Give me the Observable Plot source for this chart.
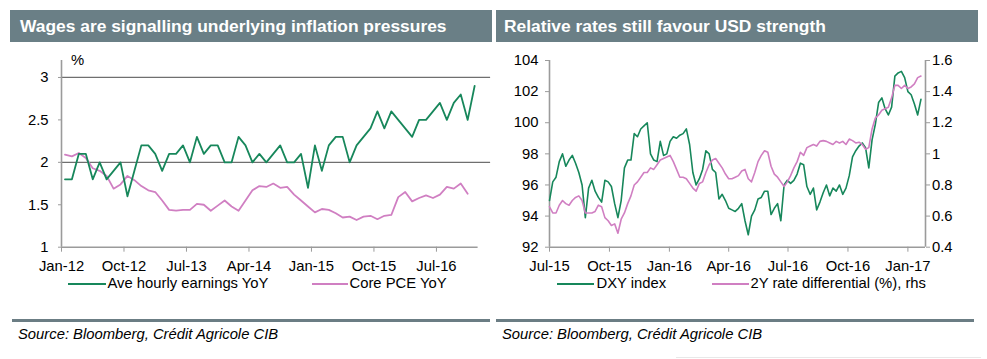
<!DOCTYPE html>
<html>
<head>
<meta charset="utf-8">
<script src="https://cdn.jsdelivr.net/npm/d3@7"></script>
<script src="https://cdn.jsdelivr.net/npm/@observablehq/plot@0.6"></script>
<style>
html,body{margin:0;padding:0;background:#fff;}
#page{position:relative;width:987px;height:359px;overflow:hidden;font-family:"Liberation Sans",Arial,sans-serif;color:#000;}
.bar{position:absolute;top:10px;height:32px;background:#6a7f86;}
.bar span{position:absolute;top:7.8px;font-weight:bold;font-size:17.4px;line-height:1;color:#fff;white-space:nowrap;}
.txt{position:absolute;font-size:14.8px;line-height:1;white-space:nowrap;}
.sw{position:absolute;height:2px;}
.sep{position:absolute;top:319px;height:3px;background:#6b7d84;}
.src{position:absolute;top:326.7px;font-size:14.8px;line-height:1;font-style:italic;white-space:nowrap;}
.chart{position:absolute;top:0;}
</style>
</head>
<body>
<div id="page">
  <div class="bar" style="left:10px;width:482px;"><span style="left:10px;">Wages are signalling underlying inflation pressures</span></div>
  <div class="bar" style="left:496px;width:482px;"><span style="left:8px;">Relative rates still favour USD strength</span></div>
  <div id="left" class="chart" style="left:0;"></div>
  <div id="rightA" class="chart" style="left:494px;"></div>
  <div id="rightB" class="chart" style="left:494px;"></div>
  <div class="txt" style="left:71px;top:52.5px;">%</div>
  <div id="legL"></div>
  <div id="legR"></div>
  <div class="sep" style="left:12px;width:478px;"></div>
  <div class="sep" style="left:496px;width:478px;"></div>
  <div class="src" style="left:18px;">Source: Bloomberg, Crédit Agricole CIB</div>
  <div class="src" style="left:502px;">Source: Bloomberg, Crédit Agricole CIB</div>
  <div style="position:absolute;left:676px;top:357px;width:305px;height:1px;background:#e8e8e8;"></div>
</div>
<script>
// ---------- Left chart data (monthly, Jan-12 .. Dec-16) ----------
const earningsYoY = [1.8,1.8,2.1,2.1,1.8,2.0,1.8,1.9,2.0,1.6,
  1.9,2.2,2.2,2.1,1.9,2.1,2.1,2.2,2.0,2.3,
  2.1,2.2,2.2,2.0,2.0,2.3,2.2,2.0,2.1,2.0,
  2.1,2.2,2.0,2.0,2.1,1.7,2.2,1.9,2.2,2.3,
  2.3,2.0,2.2,2.3,2.4,2.6,2.4,2.6,2.5,2.4,
  2.3,2.5,2.5,2.6,2.7,2.5,2.7,2.8,2.5,2.9];
const corePceYoY = [2.09,2.07,2.11,2.05,1.93,1.90,1.84,1.69,1.74,1.84,
  1.79,1.72,1.67,1.65,1.55,1.44,1.43,1.44,1.44,1.51,
  1.50,1.43,1.49,1.55,1.48,1.43,1.55,1.67,1.72,1.71,
  1.75,1.70,1.71,1.62,1.55,1.48,1.41,1.45,1.44,1.40,
  1.35,1.36,1.32,1.36,1.37,1.33,1.37,1.38,1.59,1.65,
  1.54,1.58,1.61,1.58,1.62,1.71,1.69,1.75,1.63];
const leftTicksY = [1, 1.5, 2, 2.5, 3];
const leftGrid = [2, 3];
const leftTickMonths = [0, 9, 18, 27, 36, 45, 54];
const leftTickLabels = ["Jan-12","Oct-12","Jul-13","Apr-14","Jan-15","Oct-15","Jul-16"];
const leftLegend = ["Ave hourly earnings YoY", "Core PCE YoY"];

// ---------- Right chart data ----------
const rightDates = ["2015-07-01","2015-07-06","2015-07-11","2015-07-16","2015-07-21","2015-07-26","2015-07-31","2015-08-05","2015-08-10","2015-08-15",
  "2015-08-20","2015-08-25","2015-08-30","2015-09-04","2015-09-09","2015-09-14","2015-09-19","2015-09-24","2015-09-29","2015-10-04",
  "2015-10-09","2015-10-14","2015-10-19","2015-10-24","2015-10-29","2015-11-03","2015-11-08","2015-11-13","2015-11-18","2015-11-23",
  "2015-11-28","2015-12-03","2015-12-08","2015-12-13","2015-12-18","2015-12-23","2015-12-28","2016-01-02","2016-01-07","2016-01-12",
  "2016-01-17","2016-01-22","2016-01-27","2016-02-01","2016-02-06","2016-02-11","2016-02-16","2016-02-21","2016-02-26","2016-03-02",
  "2016-03-07","2016-03-12","2016-03-17","2016-03-22","2016-03-27","2016-04-01","2016-04-06","2016-04-11","2016-04-16","2016-04-21",
  "2016-04-26","2016-05-01","2016-05-06","2016-05-11","2016-05-16","2016-05-21","2016-05-26","2016-05-31","2016-06-05","2016-06-10",
  "2016-06-15","2016-06-20","2016-06-25","2016-06-30","2016-07-05","2016-07-10","2016-07-15","2016-07-20","2016-07-25","2016-07-30",
  "2016-08-04","2016-08-09","2016-08-14","2016-08-19","2016-08-24","2016-08-29","2016-09-03","2016-09-08","2016-09-13","2016-09-18",
  "2016-09-23","2016-09-28","2016-10-03","2016-10-08","2016-10-13","2016-10-18","2016-10-23","2016-10-28","2016-11-02","2016-11-07",
  "2016-11-12","2016-11-17","2016-11-22","2016-11-27","2016-12-02","2016-12-07","2016-12-12","2016-12-17","2016-12-22","2016-12-27",
  "2017-01-01","2017-01-06","2017-01-11","2017-01-16","2017-01-21"];
const dxyIndex = [95.0,96.2,96.5,97.5,98.0,97.2,97.6,97.9,97.4,96.8,
  96.0,93.9,95.8,96.3,95.6,95.2,94.9,96.3,96.2,95.9,
  94.8,93.9,95.0,97.1,97.6,97.6,99.3,99.1,99.6,99.8,
  100.0,98.0,97.6,97.5,98.8,97.9,98.0,98.8,99.1,99.0,
  99.2,99.3,99.6,98.6,96.8,96.0,96.4,97.0,98.2,98.0,
  97.0,96.8,95.1,95.4,95.0,94.5,94.4,94.3,94.5,94.8,
  93.7,92.8,94.0,94.4,95.1,95.2,95.6,95.6,94.1,94.5,
  94.8,93.7,96.0,96.3,96.1,96.3,96.7,97.4,97.3,95.9,
  95.4,95.8,94.4,94.9,95.5,96.0,95.3,95.8,95.6,96.0,
  95.4,95.8,96.6,97.8,98.2,98.5,98.7,98.4,97.1,98.9,
  99.9,101.3,101.6,100.9,100.5,101.0,103.0,103.2,103.3,102.9,
  102.0,101.8,101.2,100.5,101.5];
const rateDiff = [0.66,0.62,0.62,0.67,0.70,0.68,0.67,0.70,0.72,0.73,
  0.70,0.62,0.62,0.62,0.63,0.67,0.66,0.59,0.57,0.54,
  0.55,0.49,0.58,0.62,0.68,0.73,0.80,0.82,0.85,0.88,
  0.88,0.91,0.90,0.93,0.96,0.97,0.98,0.99,0.95,0.90,
  0.85,0.85,0.84,0.81,0.78,0.76,0.81,0.82,0.88,0.93,
  0.96,0.97,0.94,0.91,0.87,0.84,0.84,0.85,0.86,0.89,
  0.90,0.84,0.82,0.88,0.95,0.99,1.02,1.01,0.92,0.87,
  0.85,0.82,0.79,0.82,0.86,0.91,0.95,1.01,0.99,1.04,
  1.05,1.06,1.05,1.08,1.085,1.08,1.07,1.06,1.08,1.07,
  1.08,1.06,1.095,1.085,1.07,1.075,1.06,1.03,1.04,1.16,
  1.23,1.25,1.28,1.29,1.30,1.36,1.44,1.44,1.42,1.44,
  1.42,1.43,1.45,1.49,1.50];
const rightTickDates = ["2015-07-01","2015-10-01","2016-01-01","2016-04-01","2016-07-01","2016-10-01","2017-01-01"];
const rightTickLabels = ["Jul-15","Oct-15","Jan-16","Apr-16","Jul-16","Oct-16","Jan-17"];
const lhsTicks = [92, 94, 96, 98, 100, 102, 104];
const rhsTicks = [0.4, 0.6, 0.8, 1, 1.2, 1.4, 1.6];
const rightLegend = ["DXY index", "2Y rate differential (%), rhs"];

// ---------- styles ----------
const GREEN = "#17875b", PINK = "#d07fc2", AXIS = "#9b9b9b", GRID = "#6f6f6f";
const st = {fontFamily: "'Liberation Sans', Arial, sans-serif", fontSize: "14.8px", color: "#000",
  background: "transparent", overflow: "visible"};

// ---------- left chart ----------
const earnRows = earningsYoY.map((v, i) => ({m: i + 0.5, v}));
const pceRows = corePceYoY.map((v, i) => ({m: i + 0.5, v}));
const left = Plot.plot({
  width: 494, height: 275, marginTop: 60, marginBottom: 28.3, marginLeft: 61, marginRight: 16.4,
  style: st,
  x: {domain: [0, 60], axis: null, label: null},
  y: {domain: [1, 3.2], axis: null, label: null},
  marks: [
    Plot.ruleY(leftGrid, {x1: 0, x2: 61.8, stroke: GRID, strokeWidth: 1.3}),
    Plot.ruleX([0], {y1: 1, y2: 3.2, stroke: AXIS, strokeWidth: 1.6}),
    Plot.ruleY([1], {x1: 0, x2: 60, stroke: AXIS, strokeWidth: 1.6}),
    Plot.axisY(leftTicksY, {anchor: "left", tickSize: 3, tickPadding: 10, stroke: AXIS, fill: "#000",
      label: null, tickFormat: d => String(d)}),
    Plot.axisX(leftTickMonths, {anchor: "bottom", tickSize: 5, tickPadding: 8, stroke: AXIS, fill: "#000",
      label: null, tickFormat: d => leftTickLabels[leftTickMonths.indexOf(d)]}),
    Plot.line(pceRows, {x: "m", y: "v", stroke: PINK, strokeWidth: 1.8}),
    Plot.line(earnRows, {x: "m", y: "v", stroke: GREEN, strokeWidth: 1.8})
  ]
});
document.getElementById("left").appendChild(left);

// ---------- right chart (dual axis: two overlaid plots sharing x) ----------
const rows = rightDates.map((d, i) => ({date: new Date(d), dxy: dxyIndex[i], rate: rateDiff[i]}));
const xDomain = [new Date("2015-07-01"), new Date("2017-01-28")];
const tickDates = rightTickDates.map(d => new Date(d));
const labelOf = d => rightTickLabels[tickDates.findIndex(t => +t === +d)];
const common = {width: 493, height: 275, marginTop: 60, marginBottom: 28.3, marginLeft: 55, marginRight: 62, style: st};

const rightA = Plot.plot({
  ...common,
  x: {type: "utc", domain: xDomain, axis: null, label: null},
  y: {domain: [92, 104], axis: null, label: null},
  marks: [
    Plot.ruleX([xDomain[0]], {y1: 92, y2: 104, stroke: AXIS, strokeWidth: 1.6}),
    Plot.ruleY([92], {stroke: AXIS, strokeWidth: 1.6}),
    Plot.axisY(lhsTicks, {anchor: "left", tickSize: 4, tickPadding: 7, stroke: AXIS, fill: "#000",
      label: null, tickFormat: d => String(d)}),
    Plot.axisX(tickDates, {anchor: "bottom", tickSize: 5, tickPadding: 8, stroke: AXIS, fill: "#000",
      label: null, tickFormat: labelOf}),
    Plot.line(rows, {x: "date", y: "dxy", stroke: GREEN, strokeWidth: 1.6})
  ]
});
document.getElementById("rightA").appendChild(rightA);

const rightB = Plot.plot({
  ...common,
  x: {type: "utc", domain: xDomain, axis: null, label: null},
  y: {domain: [0.4, 1.6], axis: null, label: null},
  marks: [
    Plot.ruleX([xDomain[1]], {y1: 0.4, y2: 1.6, stroke: AXIS, strokeWidth: 1.6}),
    Plot.axisY(rhsTicks, {anchor: "right", tickSize: 4, tickPadding: 2.5, stroke: AXIS, fill: "#000",
      label: null, tickFormat: d => String(d)}),
    Plot.line(rows, {x: "date", y: "rate", stroke: PINK, strokeWidth: 1.6})
  ]
});
document.getElementById("rightB").appendChild(rightB);

// ---------- legends ----------
function legend(id, items) {
  const el = document.getElementById(id);
  for (const it of items) {
    const sw = document.createElement("div");
    sw.className = "sw";
    sw.style.left = it.x0 + "px"; sw.style.width = (it.x1 - it.x0) + "px";
    sw.style.top = "283px"; sw.style.background = it.color;
    el.appendChild(sw);
    const t = document.createElement("div");
    t.className = "txt";
    t.style.left = it.tx + "px"; t.style.top = "275.8px";
    t.textContent = it.label;
    el.appendChild(t);
  }
}
legend("legL", [
  {label: leftLegend[0], color: GREEN, x0: 68, x1: 106, tx: 107.5},
  {label: leftLegend[1], color: PINK, x0: 312, x1: 348, tx: 349.5}
]);
legend("legR", [
  {label: rightLegend[0], color: GREEN, x0: 557, x1: 594, tx: 596.5},
  {label: rightLegend[1], color: PINK, x0: 712, x1: 749, tx: 750.5}
]);
</script>
</body>
</html>
